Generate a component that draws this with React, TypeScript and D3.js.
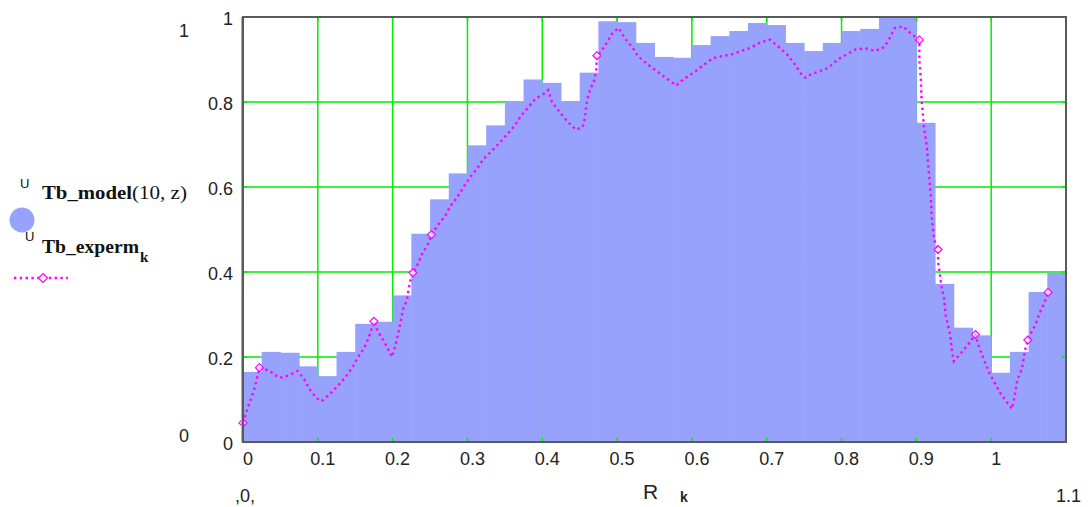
import * as React from "react";
import * as d3 from "d3";

// model: bar heights, one per 0.025-wide bin starting at 0
const modelValues: number[] = [
  0.165, 0.212, 0.21, 0.178, 0.155, 0.212, 0.278, 0.283, 0.345, 0.49, 0.571,
  0.632, 0.698, 0.745, 0.8, 0.853, 0.845, 0.8, 0.869, 0.99, 0.988, 0.939,
  0.906, 0.904, 0.934, 0.955, 0.967, 0.986, 0.981, 0.939, 0.92, 0.939, 0.967,
  0.972, 0.998, 0.998, 0.751, 0.372, 0.269, 0.251, 0.163, 0.212, 0.353, 0.398
];
const binWidth: number = 0.025;

// experiment: R_k and Tb_experm_k
const expR: number[] = [
  0, 0.007, 0.012, 0.016, 0.022, 0.036, 0.048, 0.06, 0.073, 0.082, 0.089,
  0.098, 0.105, 0.118, 0.128, 0.138, 0.147, 0.154, 0.162, 0.168, 0.175, 0.18,
  0.187, 0.194, 0.199, 0.203, 0.208, 0.214, 0.219, 0.223, 0.227, 0.234, 0.24,
  0.247, 0.252, 0.261, 0.27, 0.277, 0.286, 0.294, 0.303, 0.312, 0.321, 0.332,
  0.343, 0.352, 0.363, 0.371, 0.381, 0.391, 0.402, 0.408, 0.413, 0.423, 0.433,
  0.445, 0.454, 0.457, 0.46, 0.464, 0.469, 0.472, 0.473, 0.479, 0.486, 0.494,
  0.502, 0.51, 0.521, 0.528, 0.539, 0.551, 0.565, 0.579, 0.59, 0.603, 0.615,
  0.628, 0.64, 0.653, 0.666, 0.679, 0.691, 0.704, 0.715, 0.727, 0.737, 0.746,
  0.752, 0.759, 0.77, 0.782, 0.795, 0.807, 0.819, 0.833, 0.845, 0.857, 0.864,
  0.871, 0.882, 0.894, 0.904, 0.904, 0.906, 0.907, 0.91, 0.914, 0.916, 0.919,
  0.921, 0.924, 0.929, 0.929, 0.934, 0.937, 0.939, 0.942, 0.945, 0.948, 0.95,
  0.96, 0.969, 0.979, 0.983, 0.988, 0.993, 0.998, 1.006, 1.012, 1.02, 1.028,
  1.031, 1.035, 1.041, 1.045, 1.049, 1.054, 1.06, 1.065, 1.071, 1.076
];
const expValues: number[] = [
  0.045, 0.084, 0.108, 0.13, 0.175, 0.167, 0.151, 0.156, 0.167, 0.147, 0.124,
  0.104, 0.096, 0.116, 0.135, 0.155, 0.178, 0.2, 0.222, 0.245, 0.284, 0.261,
  0.241, 0.218, 0.2, 0.222, 0.26, 0.312, 0.335, 0.375, 0.398, 0.42, 0.445,
  0.465, 0.488, 0.512, 0.531, 0.555, 0.575, 0.598, 0.622, 0.641, 0.665, 0.684,
  0.704, 0.722, 0.744, 0.766, 0.787, 0.808, 0.819, 0.828, 0.8, 0.777, 0.755,
  0.735, 0.741, 0.763, 0.806, 0.829, 0.849, 0.872, 0.909, 0.919, 0.939, 0.963,
  0.974, 0.951, 0.927, 0.908, 0.891, 0.875, 0.857, 0.839, 0.855, 0.87, 0.886,
  0.903, 0.908, 0.912, 0.92, 0.928, 0.94, 0.947, 0.931, 0.912, 0.89, 0.866,
  0.857, 0.865, 0.872, 0.88, 0.9, 0.912, 0.924, 0.926, 0.92, 0.929, 0.949,
  0.974, 0.978, 0.959, 0.946, 0.9, 0.853, 0.806, 0.743, 0.696, 0.649, 0.586,
  0.52, 0.476, 0.453, 0.425, 0.363, 0.339, 0.3, 0.276, 0.255, 0.21, 0.19,
  0.21, 0.229, 0.253, 0.227, 0.204, 0.182, 0.161, 0.135, 0.116, 0.096, 0.078,
  0.104, 0.147, 0.171, 0.214, 0.24, 0.259, 0.28, 0.304, 0.327, 0.352
];
// points where the diamond symbol is still readable
const markerR: number[] = [0, 0.022, 0.175, 0.227, 0.252, 0.473, 0.904, 0.929, 0.979, 1.049, 1.076];

const xTicks: number[] = [0, 0.1, 0.2, 0.3, 0.4, 0.5, 0.6, 0.7, 0.8, 0.9, 1];
const yTicks: number[] = [0, 0.2, 0.4, 0.6, 0.8, 1];
const yRange: number[] = [0, 1];
const xRangeLabels: string[] = [",0,", "1.1"];

const barColor = "#96a2fc";
const lineColor = "#ff00ff";
const gridColor = "#00ee00";
const sans = "'Liberation Sans', Arial, sans-serif";
const serif = "'Liberation Serif', 'Times New Roman', serif";

export default function App(): JSX.Element {
  const W = 1091;
  const H = 507;
  const margin = { left: 243, right: 25, top: 17, bottom: 65 };

  const x = d3.scaleLinear().domain([0, 1.1]).range([margin.left, W - margin.right]);
  const y = d3.scaleLinear().domain([0, 1]).range([H - margin.bottom, margin.top]);

  const expPoints: [number, number][] = expR.map((r, i) => [r, expValues[i]]);
  const line = d3.line<[number, number]>()
    .x((d) => x(d[0]))
    .y((d) => y(d[1]));

  const markers = markerR.map((r) => {
    const i = d3.minIndex(expR, (v) => Math.abs(v - r));
    return [expR[i], expValues[i]] as [number, number];
  });

  const diamond = (cx: number, cy: number, s: number): string =>
    `M${cx},${cy - s}L${cx + s},${cy}L${cx},${cy + s}L${cx - s},${cy}Z`;

  const fmt = (t: number): string => (t === 0 || t === 1 ? String(t) : t.toFixed(1));

  const x0 = x(0), x1 = x(1.1), y0 = y(0), y1 = y(1);

  return (
    <svg width={W} height={H} style={{ position: "absolute", left: 0, top: 0, background: "#fff" }}>
      {/* grid */}
      <g stroke={gridColor} strokeWidth={1.5}>
        {xTicks.filter((t) => t > 0).map((t) => (
          <line key={"gx" + t} x1={x(t)} x2={x(t)} y1={y1} y2={y0} />
        ))}
        {yTicks.filter((t) => t > 0 && t < 1).map((t) => (
          <line key={"gy" + t} x1={x0} x2={x1} y1={y(t)} y2={y(t)} />
        ))}
      </g>

      {/* model bars */}
      <g fill={barColor}>
        {modelValues.map((v, i) => (
          <rect key={"b" + i}
                x={x(i * binWidth)}
                y={y(v)}
                width={x((i + 1) * binWidth) - x(i * binWidth) + 0.5}
                height={y0 - y(v)} />
        ))}
      </g>

      {/* small green ticks on the frame */}
      <g stroke={gridColor} strokeWidth={1.5}>
        {xTicks.filter((t) => t > 0).map((t) => (
          <g key={"tx" + t}>
            <line x1={x(t)} x2={x(t)} y1={y0} y2={y0 - 4} />
            <line x1={x(t)} x2={x(t)} y1={y1} y2={y1 + 4} />
          </g>
        ))}
        {yTicks.filter((t) => t > 0 && t < 1).map((t) => (
          <g key={"ty" + t}>
            <line x1={x1} x2={x1 - 4} y1={y(t)} y2={y(t)} />
            <line x1={x0} x2={x0 + 4} y1={y(t)} y2={y(t)} />
          </g>
        ))}
      </g>

      {/* experiment line */}
      <path d={line(expPoints) || ""} fill="none" stroke={lineColor}
            strokeWidth={2.4} strokeDasharray="2.4 3.4" />
      {markers.map((d, i) => (
        <path key={"m" + i} d={diamond(x(d[0]), y(d[1]), 4)} fill="#fff"
              fillOpacity={0.6} stroke={lineColor} strokeWidth={1.2} />
      ))}

      {/* frame */}
      <rect x={x0} y={y1} width={x1 - x0} height={y0 - y1} fill="none" stroke="#5a5a5a" strokeWidth={2} />
      <line x1={x0 - 1.5} x2={x0 - 1.5} y1={y1} y2={y0} stroke="#b0b0b0" strokeWidth={1} />

      {/* y tick labels */}
      <g fontFamily={sans} fontSize={18} fill="#222" textAnchor="end">
        {yTicks.map((t) => (
          <text key={"yl" + t} x={233} y={y(t) + 2} dy="0.35em">{fmt(t)}</text>
        ))}
      </g>
      {/* y range limits */}
      <g fontFamily={sans} fontSize={18} fill="#222" textAnchor="middle">
        {yRange.map((t) => (
          <text key={"yr" + t} x={184} y={t === 1 ? y(t) + 14 : y(t) - 6} dy="0.35em">{fmt(t)}</text>
        ))}
      </g>

      {/* x tick labels */}
      <g fontFamily={sans} fontSize={18} fill="#222" textAnchor="middle">
        {xTicks.map((t) => (
          <text key={"xl" + t} x={x(t) + 5} y={465}>{fmt(t)}</text>
        ))}
      </g>

      {/* x range limits and axis title */}
      <text x={235} y={502} fontFamily={sans} fontSize={18} fill="#222">{xRangeLabels[0]}</text>
      <text x={1081} y={502} fontFamily={sans} fontSize={18} fill="#222" textAnchor="end">{xRangeLabels[1]}</text>
      <text x={643} y={499} fontFamily={sans} fontSize={21} fill="#222">R</text>
      <text x={680} y={502} fontFamily={sans} fontSize={14} fontWeight="bold" fill="#222">k</text>

      {/* legend */}
      <text x={20} y={188} fontFamily={sans} fontSize={13} fill="#111">U</text>
      <text x={42} y={199} fontFamily={serif} fontSize={18} fill="#111">
        <tspan fontWeight="bold" textLength={90} lengthAdjust="spacingAndGlyphs">Tb_model</tspan>
        <tspan textLength={55} lengthAdjust="spacingAndGlyphs">(10, z)</tspan>
      </text>
      <circle cx={22} cy={220} r={12.5} fill={barColor} />
      <text x={25} y={241} fontFamily={sans} fontSize={13} fill="#111">U</text>
      <text x={42} y={253} fontFamily={serif} fontSize={18} fontWeight="bold" fill="#111"
            textLength={97} lengthAdjust="spacingAndGlyphs">Tb_experm</text>
      <text x={140} y={262} fontFamily={serif} fontSize={15} fontWeight="bold" fill="#111">k</text>
      <line x1={14} x2={68} y1={278} y2={278} stroke={lineColor} strokeWidth={2.4} strokeDasharray="2.4 3.4" />
      <path d={diamond(43, 278, 4.5)} fill="#fff" stroke={lineColor} strokeWidth={1.2} />
    </svg>
  );
}
